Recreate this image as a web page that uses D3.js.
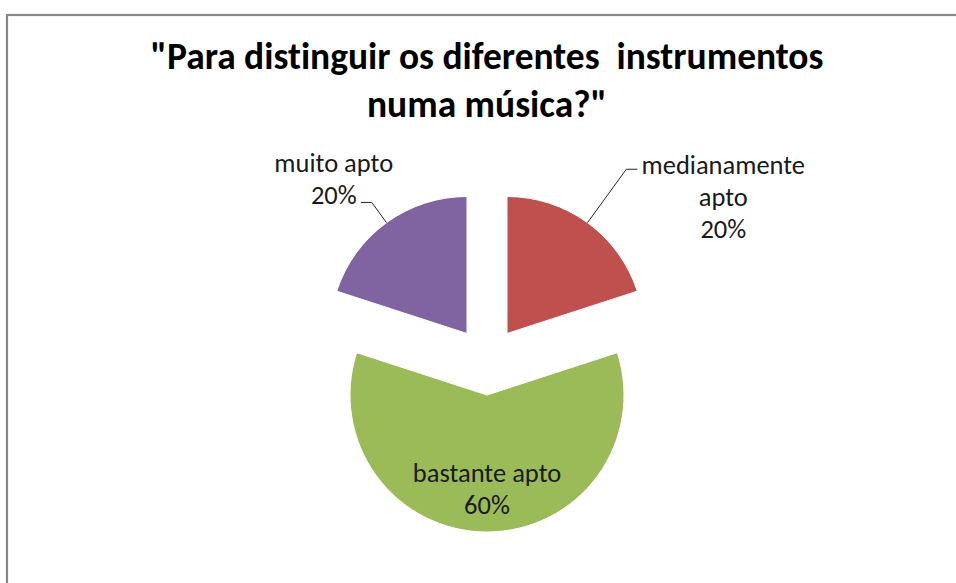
<!DOCTYPE html>
<html>
<head>
<meta charset="utf-8">
<script src="https://cdn.jsdelivr.net/npm/d3@7"></script>
<style>
  html, body { margin: 0; padding: 0; background: #fff; }
  svg { display: block; }
  text { white-space: pre; font-variant-ligatures: none; font-feature-settings: "liga" 0, "clig" 0; }
</style>
</head>
<body>
<svg id="chart" width="956" height="583"></svg>
<script>
// Survey answers, in clockwise order from 12 o'clock
const categories = ["medianamente apto", "bastante apto", "muito apto"];
const values = [20, 60, 20];
const colors = ["#C0504D", "#9BBB59", "#8064A2"];
const titleLines = ["\"Para distinguir os diferentes  instrumentos", "numa música?\""];

const W = 956, H = 583;
const svg = d3.select("#chart");
const FONT = "Carlito, Calibri, Lato, 'Open Sans', sans-serif";

// chart frame (runs off the right and bottom edges)
svg.append("rect")
  .attr("x", 7).attr("y", 15)
  .attr("width", W + 20).attr("height", H + 20)
  .attr("fill", "#fff")
  .attr("stroke", "#868686")
  .attr("stroke-width", 2.2);

// fit a text element to a target width by adjusting its font size
function fitWidth(sel, target) {
  const node = sel.node();
  const fs = parseFloat(sel.attr("font-size"));
  const w = node.getComputedTextLength();
  sel.attr("font-size", (fs * target / w).toFixed(2));
}

// title
const cx0 = 487;
const title = svg.append("g").attr("font-family", FONT).attr("font-weight", "bold")
  .attr("fill", "#000").attr("text-anchor", "middle");
const t1 = title.append("text").attr("x", cx0).attr("y", 69).attr("font-size", 30).text(titleLines[0]);
fitWidth(t1, 673);
const tfs = t1.attr("font-size");
title.append("text").attr("x", cx0).attr("y", 117).attr("font-size", tfs).text(titleLines[1]);

// exploded pie
const cx = 487, cy = 361, r = 137, explode = 34;
const pie = d3.pie().sort(null).value(d => d).startAngle(0).endAngle(2 * Math.PI);
const arcs = pie(values);
const arc = d3.arc().innerRadius(0).outerRadius(r);
const color = d3.scaleOrdinal().domain(categories).range(colors);

function polar(a, rad) { return [rad * Math.sin(a), -rad * Math.cos(a)]; }

const slices = svg.append("g").attr("transform", `translate(${cx},${cy})`);
arcs.forEach((a, i) => {
  const mid = (a.startAngle + a.endAngle) / 2;
  const [ox, oy] = polar(mid, explode);
  a.offset = [ox, oy];
  a.mid = mid;
  slices.append("path")
    .attr("d", arc(a))
    .attr("transform", `translate(${ox},${oy})`)
    .attr("fill", color(categories[i]))
    .attr("stroke", "#fff")
    .attr("stroke-width", 1);
});

// data labels
const labelFs = 26.5;
const labels = svg.append("g").attr("font-family", FONT).attr("fill", "#1a1a1a")
  .attr("text-anchor", "middle").attr("font-size", labelFs);
const lineH = 32;

function pct(v) { return Math.round(v / d3.sum(values) * 100) + "%"; }

// per-slice label layout: leader elbow radius, horizontal run, text offset
const layout = [
  { elbowR: 203, run: 11, dx: 97, dy: 5, lines: ["medianamente", "apto"] },
  { inside: 0.69, lines: ["bastante apto"] },
  { elbowR: 162, run: -11, dx: -38, dy: -30, lines: ["muito apto"] }
];

arcs.forEach((a, i) => {
  const L = layout[i];
  const c = [cx + a.offset[0], cy + a.offset[1]];
  const textLines = L.lines.concat([pct(values[i])]);
  let tx, ty;
  if (L.inside) {
    const p = polar(a.mid, r * L.inside);
    tx = c[0] + p[0];
    ty = c[1] + p[1] - (textLines.length - 1) * lineH / 2 + 8;
  } else {
    const e = polar(a.mid, r);
    const b = polar(a.mid, L.elbowR);
    const start = [c[0] + e[0], c[1] + e[1]];
    const elbow = [c[0] + b[0], c[1] + b[1]];
    const end = [elbow[0] + L.run, elbow[1]];
    svg.append("path")
      .attr("d", d3.line()([start, elbow, end]))
      .attr("fill", "none").attr("stroke", "#262626").attr("stroke-width", 1);
    tx = elbow[0] + L.dx;
    ty = elbow[1] + L.dy;
  }
  textLines.forEach((s, j) => {
    labels.append("text").attr("x", tx).attr("y", ty + j * lineH).text(s);
  });
});
</script>
</body>
</html>
